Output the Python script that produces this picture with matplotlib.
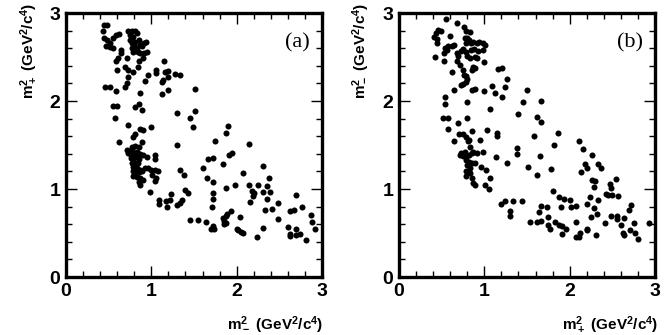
import numpy as np
import matplotlib
matplotlib.use("Agg")
import matplotlib.pyplot as plt
from matplotlib.ticker import MultipleLocator

plt.rcParams['font.family'] = ['Liberation Sans', 'DejaVu Sans']
plt.rcParams['mathtext.fontset'] = 'custom'
plt.rcParams['mathtext.rm'] = 'Liberation Sans:bold'
plt.rcParams['mathtext.bf'] = 'Liberation Sans:bold'
plt.rcParams['mathtext.default'] = 'bf'

# Panel (a): x = m^2_- , y = m^2_+
a_pts = [
(0.44,2.86),(0.48,2.86),(0.43,2.79),(0.44,2.72),(0.48,2.69),(0.52,2.66),(0.47,2.62),(0.52,2.61),(0.55,2.60),(0.55,2.72),(0.59,2.75),(0.62,2.76),
(0.73,2.80),(0.77,2.80),(0.81,2.80),(0.75,2.75),(0.79,2.73),(0.83,2.77),(0.75,2.69),(0.77,2.66),(0.81,2.67),(0.85,2.69),(0.87,2.64),(0.83,2.60),(0.89,2.62),(0.91,2.66),(0.94,2.67),(0.95,2.56),(0.91,2.55),(0.87,2.54),(0.84,2.56),(0.78,2.56),(0.77,2.60),(0.80,2.62),
(0.64,2.58),(0.65,2.54),(0.61,2.49),(0.59,2.46),(0.71,2.49),(0.69,2.39),(0.73,2.35),(0.60,2.35),(0.78,2.33),(0.86,2.45),(0.90,2.49),(0.84,2.39),(0.73,2.27),(0.71,2.20),(0.69,2.16),(0.96,2.30),(0.93,2.23),(1.06,2.35),(1.06,2.32),(1.15,2.46),(1.16,2.33),(1.20,2.34),(1.19,2.27),(1.12,2.22),(1.14,2.24),(1.28,2.31),(1.34,2.30),(0.46,2.16),(0.51,2.16),(0.59,2.11),(0.87,2.09),(1.20,2.12),(1.12,2.08),(1.51,2.14),(0.55,1.94),(0.60,1.94),(0.81,1.93),(0.85,1.97),(0.89,1.90),(0.58,1.81),(1.30,1.86),(1.45,1.81),(1.51,1.89),(0.73,1.73),(0.87,1.68),(0.90,1.67),(1.00,1.70),(1.49,1.71),(0.81,1.63),(0.79,1.59),
(0.62,1.53),(0.89,1.53),(0.77,1.48),(0.81,1.49),(0.86,1.48),(1.30,1.50),
(0.71,1.44),(0.74,1.42),(0.77,1.45),(0.73,1.41),(0.76,1.39),(0.79,1.41),(0.83,1.42),(0.87,1.40),(0.90,1.39),(0.76,1.35),(0.79,1.34),(0.82,1.36),(0.86,1.34),(0.77,1.29),(0.81,1.30),(0.84,1.29),(0.79,1.25),(0.83,1.24),(0.87,1.22),(0.78,1.20),(0.81,1.18),(0.85,1.19),(0.89,1.20),(0.78,1.15),(0.83,1.14),(0.87,1.12),(0.90,1.10),(0.86,1.08),(0.87,1.05),
(0.95,1.36),(1.04,1.39),(1.04,1.34),(0.93,1.24),(0.96,1.24),(1.00,1.22),(1.04,1.22),(1.08,1.21),(1.01,1.16),(1.06,1.12),(1.04,1.09),(0.98,0.97),(1.09,0.875),(1.09,0.83),(1.17,0.86),(1.22,0.87),(1.23,0.94),(1.18,0.79),(1.30,0.82),(1.34,0.84),(1.36,0.87),(1.34,1.22),(1.38,1.16),(1.40,0.99),(1.43,0.96),(1.45,0.65),(1.55,0.65),
(1.90,1.72),(1.88,1.64),(1.75,1.55),(2.14,1.51),(1.91,1.39),(1.94,1.41),(1.66,1.34),(1.72,1.35),(1.84,1.28),(1.60,1.24),(2.31,1.26),(2.07,1.18),(1.65,1.13),(1.72,1.08),(2.38,1.12),(1.98,1.05),(2.14,1.05),(2.25,1.05),(1.88,1.01),(2.36,1.03),(2.18,0.98),(2.20,0.96),(2.31,0.97),(2.39,0.97),(1.72,0.96),(2.19,0.92),(1.72,0.89),(2.36,0.89),(2.16,0.85),(2.48,0.84),(2.70,0.93),(1.71,0.79),(2.41,0.77),(2.33,0.76),(2.62,0.75),(2.67,0.76),(2.77,0.79),(1.93,0.75),(1.89,0.72),(1.88,0.69),(1.84,0.67),(2.87,0.70),(2.49,0.66),(2.04,0.68),(1.64,0.62),(1.85,0.64),(1.88,0.61),(1.85,0.60),(2.00,0.55),(2.02,0.53),(2.05,0.51),(2.08,0.50),(1.72,0.58),(1.70,0.55),(1.73,0.54),(2.31,0.56),(2.60,0.57),(2.70,0.55),(2.88,0.62),(2.92,0.54),(2.63,0.49),(2.63,0.47),(2.70,0.48),(2.74,0.49),(2.24,0.46),(2.81,0.42),
]
a_mminus = [p[0] for p in a_pts]
a_mplus = [p[1] for p in a_pts]

# Panel (b): x = m^2_+ , y = m^2_-
b_pts = [
(0.55,2.93),(0.68,2.89),(0.76,2.84),(0.79,2.80),(0.83,2.78),(0.46,2.81),(0.49,2.80),(0.43,2.77),(0.41,2.73),(0.45,2.71),(0.60,2.74),(0.45,2.66),(0.58,2.62),(0.62,2.62),(0.65,2.64),(0.54,2.60),(0.56,2.58),(0.77,2.72),(0.80,2.72),(0.82,2.69),(0.79,2.66),(0.84,2.66),(0.87,2.67),(0.91,2.66),(0.94,2.67),(0.98,2.66),(1.01,2.64),(0.75,2.59),(0.73,2.57),(0.79,2.56),(0.84,2.58),(0.88,2.59),(0.92,2.57),(0.98,2.58),(0.53,2.55),(0.42,2.50),(0.53,2.46),(0.68,2.54),(0.69,2.51),(0.80,2.51),(0.83,2.49),(0.89,2.50),(0.91,2.49),(0.68,2.45),(0.71,2.41),(1.00,2.44),(0.87,2.39),(0.89,2.37),(0.85,2.35),(0.62,2.33),(0.75,2.35),(0.76,2.30),(0.78,2.28),(0.80,2.25),(0.78,2.22),(0.75,2.19),(0.73,2.18),(1.16,2.36),(1.21,2.37),(1.26,2.25),(0.85,2.13),(0.89,2.14),(0.65,2.12),(1.00,2.11),(1.09,2.17),(1.13,2.09),(1.24,2.16),(1.21,2.04),(1.50,2.12),(1.45,1.99),(0.54,2.04),(0.54,1.97),(0.80,1.99),(1.07,1.91),(1.40,1.85),(0.52,1.81),(0.57,1.81),(0.80,1.81),
(1.66,2.00),(1.62,1.82),
(0.57,1.68),(0.69,1.75),(0.64,1.54),(0.70,1.63),(0.75,1.62),(0.79,1.59),(0.82,1.56),(0.81,1.54),(0.85,1.66),(0.95,1.56),(1.03,1.67),(1.15,1.64),(1.15,1.60),(1.58,1.60),(0.83,1.48),(0.71,1.39),(0.73,1.41),(0.77,1.42),(0.75,1.37),(0.79,1.36),(0.82,1.39),(0.85,1.41),(0.87,1.42),(0.91,1.41),(0.99,1.42),(0.78,1.33),(0.82,1.31),(0.85,1.29),(0.80,1.27),(0.89,1.29),(0.83,1.24),(0.79,1.20),(0.83,1.18),(0.78,1.15),(0.85,1.12),(0.87,1.07),(0.89,1.05),(0.96,1.25),(1.02,1.22),(1.07,1.12),(1.01,1.04),(1.06,1.00),(1.14,1.36),(1.26,1.29),(1.38,1.47),(1.38,1.40),(1.51,1.25),(1.20,0.83),(1.24,0.86),(1.34,0.86),(1.44,0.86),(1.30,0.75),(1.30,0.69),(1.53,0.62),
(1.66,1.76),(1.86,1.64),(1.82,1.50),(1.65,1.37),(1.62,1.16),(1.78,1.23),(2.11,1.54),(2.16,1.45),(2.26,1.39),(2.18,1.28),(2.20,1.24),(2.13,1.19),(2.33,1.28),(2.37,1.24),(2.26,1.10),(2.30,1.09),(2.29,1.02),(2.54,1.11),(2.47,1.06),(2.49,1.01),(2.45,0.93),(2.42,0.94),(2.50,0.93),(2.57,0.92),(2.33,0.88),(2.24,0.91),(1.80,0.98),(1.87,0.91),(1.93,0.89),(2.00,0.87),(2.01,0.79),(1.90,0.80),(1.73,0.79),(1.64,0.74),(1.66,0.81),(2.20,0.83),(2.28,0.78),(2.32,0.72),(2.08,0.81),(2.25,0.68),(1.62,0.62),(1.66,0.64),(1.75,0.68),(1.83,0.63),(1.75,0.59),(1.77,0.54),(1.87,0.59),(1.91,0.58),(1.96,0.55),(1.91,0.49),(2.08,0.62),(2.12,0.50),(2.07,0.46),(2.11,0.45),(2.20,0.55),(2.20,0.53),(2.31,0.48),(2.41,0.61),(2.48,0.69),(2.55,0.69),(2.56,0.66),(2.64,0.67),(2.60,0.59),(2.62,0.50),(2.64,0.48),(2.72,0.82),(2.69,0.76),(2.71,0.53),(2.75,0.61),(2.76,0.50),(2.80,0.43),(2.93,0.61),
]
b_mplus = [p[0] for p in b_pts]
b_mminus = [p[1] for p in b_pts]

tick_vals = [0, 1, 2, 3]
panel_tags = ['(a)', '(b)']
xlabels = [r'm$^2_-$ (GeV$^2$/c$^4$)', r'm$^2_+$ (GeV$^2$/c$^4$)']
ylabels = [r'm$^2_+$ (GeV$^2$/c$^4$)', r'm$^2_-$ (GeV$^2$/c$^4$)']

W, H = 664, 335
fig = plt.figure(figsize=(W/100, H/100), dpi=100)

axes_px = [(66, 322), (399, 655)]
top_px, bot_px = 13, 277
data = [(a_mminus, a_mplus), (b_mplus, b_mminus)]
xlab_right = [323, 658]
ylab_x = [29, 361]

for i in range(2):
    l, r = axes_px[i]
    ax = fig.add_axes([l/W, 1-bot_px/H, (r-l)/W, (bot_px-top_px)/H])
    xs, ys = data[i]
    ax.scatter(xs, ys, s=19, c='black', linewidths=0)
    ax.set_xlim(0, 3)
    ax.set_ylim(0, 3)
    ax.set_xticks(tick_vals)
    ax.set_yticks(tick_vals)
    ax.xaxis.set_minor_locator(MultipleLocator(0.2))
    ax.yaxis.set_minor_locator(MultipleLocator(0.2))
    ax.tick_params(which='both', direction='in', top=True, right=True, width=1)
    ax.tick_params(which='major', length=8, labelsize=14, pad=4)
    ax.tick_params(which='minor', length=4)
    for lab in ax.get_xticklabels() + ax.get_yticklabels():
        lab.set_fontweight('bold')
    for sp in ax.spines.values():
        sp.set_linewidth(2.4)
    ax.text(2.71, 2.66, panel_tags[i], family='Liberation Serif', fontsize=16,
            ha='center', va='center')
    fig.text(xlab_right[i]/W, 1-325/H, xlabels[i], ha='right', va='center',
             fontsize=11, fontweight='bold')
    fig.text(ylab_x[i]/W, 1-3/H, ylabels[i], ha='center', va='top', rotation=90,
             fontsize=11, fontweight='bold')

fig.savefig('out.png', dpi=100)
